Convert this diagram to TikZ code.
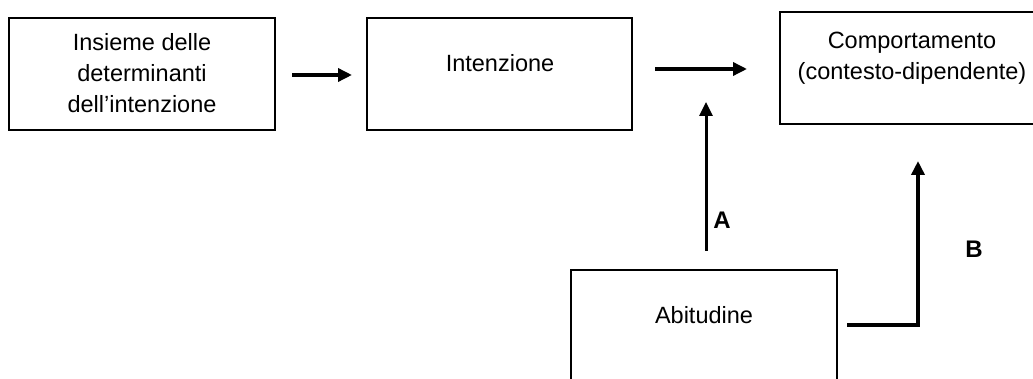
\documentclass[tikz,border=0pt]{standalone}
\usepackage{fontspec}
\setmainfont{Liberation Sans}
\usetikzlibrary{arrows.meta}
\begin{document}
\begin{tikzpicture}[x=1pt,y=-1pt,
  box/.style={draw, line width=1.8pt, inner sep=0pt},
  lbl/.style={font=\fontsize{23.5}{31}\selectfont, align=center, inner sep=0pt},
  tag/.style={font=\fontsize{24}{28}\selectfont\bfseries, inner sep=0pt},
  tip/.style={-{Triangle[length=14pt,width=13pt]}},
  arr/.style={line width=3.4pt, tip},
  lna/.style={line width=3pt},
  lnb/.style={line width=3.6pt}]
\useasboundingbox (0,0) rectangle (1033,379);
\clip (0,0) rectangle (1033,379);
% boxes
\node[box, minimum width=266pt, minimum height=112pt] (b1) at (142,74) {};
\node[box, minimum width=265pt, minimum height=112pt] (b2) at (499.5,74) {};
\node[box, minimum width=264pt, minimum height=112pt] (b3) at (912,68) {};
\node[box, minimum width=266pt, minimum height=116pt] (b4) at (704,328) {};
% texts
\node[lbl] (t1) at (142,73) {Insieme delle\\determinanti\\dell’intenzione};
\node[lbl] (t2) at (500,63) {Intenzione};
\node[lbl] (t3) at (912,58) {Comportamento\\(contesto-dipendente)};
\node[lbl] (t4) at (704,315) {Abitudine};
% connector points
\coordinate (a1s) at (292,75);
\coordinate (a1e) at (352,75);
\coordinate (a2s) at (655,69);
\coordinate (a2e) at (747,69);
\coordinate (as) at (706,251);
\coordinate (ae) at (706,102);
\coordinate (bs) at (847,325);
\coordinate (bc) at (918,325);
\coordinate (be) at (918,161);
% connectors
\draw[arr] (a1s) -- (a1e);
\draw[arr] (a2s) -- (a2e);
\draw[lna, tip] (as) -- (ae);
\draw[lnb, tip] (bs) -- (bc) -- (be);
% labels
\node[tag] (la) at (722,220) {A};
\node[tag] (lb) at (974,249) {B};
\end{tikzpicture}
\end{document}
